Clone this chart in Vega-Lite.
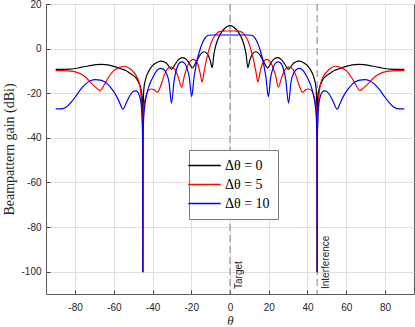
{
  "$schema": "https://vega.github.io/schema/vega-lite/v6.json",
  "width": 368,
  "height": 290,
  "autosize": {"type": "none"},
  "padding": {"left": 46, "top": 4, "right": 1, "bottom": 33},
  "background": "white",
  "config": {
    "view": {"stroke": "#5a5a5a", "strokeWidth": 1},
    "axis": {
      "labelFont": "Liberation Sans",
      "labelFontSize": 10,
      "labelColor": "#262626",
      "labelExpr": "datum.value < 0 ? '-' + abs(datum.value) : '' + datum.value",
      "gridColor": "#dfdfdf",
      "gridWidth": 1,
      "domain": false,
      "tickColor": "#404040",
      "tickSize": -4,
      "titleColor": "#262626",
      "titleFontWeight": "normal"
    }
  },
  "datasets": {
    "marks": [
      {"x": 0, "label": "Target"},
      {"x": 45, "label": "Interference"}
    ],
    "curves": [
      {"s":"Δθ = 0","x":-90,"y":-9.3},{"s":"Δθ = 0","x":-86,"y":-9.3},{"s":"Δθ = 0","x":-83,"y":-9.2},{"s":"Δθ = 0","x":-80,"y":-8.9},{"s":"Δθ = 0","x":-77,"y":-8.4},{"s":"Δθ = 0","x":-74,"y":-7.9},{"s":"Δθ = 0","x":-71.5,"y":-7.5},{"s":"Δθ = 0","x":-69,"y":-7.2},{"s":"Δθ = 0","x":-66.5,"y":-7.1},{"s":"Δθ = 0","x":-64.5,"y":-7.2},{"s":"Δθ = 0","x":-62,"y":-7.5},{"s":"Δθ = 0","x":-59,"y":-8.2},{"s":"Δθ = 0","x":-56.8,"y":-8.9},{"s":"Δθ = 0","x":-53.8,"y":-9.8},{"s":"Δθ = 0","x":-51.8,"y":-11},{"s":"Δθ = 0","x":-50,"y":-12},{"s":"Δθ = 0","x":-48,"y":-13.8},{"s":"Δθ = 0","x":-47.2,"y":-15.3},{"s":"Δθ = 0","x":-46.3,"y":-17},{"s":"Δθ = 0","x":-45.6,"y":-20},{"s":"Δθ = 0","x":-45.2,"y":-25},{"s":"Δθ = 0","x":-45.05,"y":-40},{"s":"Δθ = 0","x":-45,"y":-100},{"s":"Δθ = 0","x":-44.95,"y":-40},{"s":"Δθ = 0","x":-44.8,"y":-24},{"s":"Δθ = 0","x":-44.4,"y":-17.5},{"s":"Δθ = 0","x":-43.5,"y":-13.5},{"s":"Δθ = 0","x":-42,"y":-10.2},{"s":"Δθ = 0","x":-40,"y":-7.6},{"s":"Δθ = 0","x":-38,"y":-6.3},{"s":"Δθ = 0","x":-35.8,"y":-5.6},{"s":"Δθ = 0","x":-33.5,"y":-6.1},{"s":"Δθ = 0","x":-31.8,"y":-7.6},{"s":"Δθ = 0","x":-30.2,"y":-9.3},{"s":"Δθ = 0","x":-28.3,"y":-7.0},{"s":"Δθ = 0","x":-26.5,"y":-4.8},{"s":"Δθ = 0","x":-24.5,"y":-4.0},{"s":"Δθ = 0","x":-22.5,"y":-4.8},{"s":"Δθ = 0","x":-21,"y":-6.6},{"s":"Δθ = 0","x":-19.5,"y":-8.7},{"s":"Δθ = 0","x":-17.5,"y":-6.0},{"s":"Δθ = 0","x":-16,"y":-3.6},{"s":"Δθ = 0","x":-14.5,"y":-1.9},{"s":"Δθ = 0","x":-13.3,"y":-1.4},{"s":"Δθ = 0","x":-12,"y":-2.0},{"s":"Δθ = 0","x":-11,"y":-3.4},{"s":"Δθ = 0","x":-10.2,"y":-5.3},{"s":"Δθ = 0","x":-9.2,"y":-8.5},{"s":"Δθ = 0","x":-8.3,"y":-2.5},{"s":"Δθ = 0","x":-7.3,"y":1.5},{"s":"Δθ = 0","x":-6,"y":4.8},{"s":"Δθ = 0","x":-4.5,"y":7.2},{"s":"Δθ = 0","x":-3,"y":8.8},{"s":"Δθ = 0","x":-1.5,"y":9.9},
      {"s":"Δθ = 0","x":0,"y":10.3},
      {"s":"Δθ = 0","x":1.5,"y":9.9},{"s":"Δθ = 0","x":3,"y":8.8},{"s":"Δθ = 0","x":4.5,"y":7.2},{"s":"Δθ = 0","x":6,"y":4.8},{"s":"Δθ = 0","x":7.3,"y":1.5},{"s":"Δθ = 0","x":8.3,"y":-2.5},{"s":"Δθ = 0","x":9.2,"y":-8.5},{"s":"Δθ = 0","x":10.2,"y":-5.3},{"s":"Δθ = 0","x":11,"y":-3.4},{"s":"Δθ = 0","x":12,"y":-2.0},{"s":"Δθ = 0","x":13.3,"y":-1.4},{"s":"Δθ = 0","x":14.5,"y":-1.9},{"s":"Δθ = 0","x":16,"y":-3.6},{"s":"Δθ = 0","x":17.5,"y":-6.0},{"s":"Δθ = 0","x":19.5,"y":-8.7},{"s":"Δθ = 0","x":21,"y":-6.6},{"s":"Δθ = 0","x":22.5,"y":-4.8},{"s":"Δθ = 0","x":24.5,"y":-4.0},{"s":"Δθ = 0","x":26.5,"y":-4.8},{"s":"Δθ = 0","x":28.3,"y":-7.0},{"s":"Δθ = 0","x":30.2,"y":-9.3},{"s":"Δθ = 0","x":31.8,"y":-7.6},{"s":"Δθ = 0","x":33.5,"y":-6.1},{"s":"Δθ = 0","x":35.8,"y":-5.6},{"s":"Δθ = 0","x":38,"y":-6.3},{"s":"Δθ = 0","x":40,"y":-7.6},{"s":"Δθ = 0","x":42,"y":-10.2},{"s":"Δθ = 0","x":43.5,"y":-13.5},{"s":"Δθ = 0","x":44.4,"y":-17.5},{"s":"Δθ = 0","x":44.8,"y":-24},{"s":"Δθ = 0","x":44.95,"y":-40},{"s":"Δθ = 0","x":45,"y":-100},{"s":"Δθ = 0","x":45.05,"y":-40},{"s":"Δθ = 0","x":45.2,"y":-25},{"s":"Δθ = 0","x":45.6,"y":-20},{"s":"Δθ = 0","x":46.3,"y":-17},{"s":"Δθ = 0","x":47.2,"y":-15.3},{"s":"Δθ = 0","x":48,"y":-13.8},{"s":"Δθ = 0","x":50,"y":-12},{"s":"Δθ = 0","x":51.8,"y":-11},{"s":"Δθ = 0","x":53.8,"y":-9.8},{"s":"Δθ = 0","x":56.8,"y":-8.9},{"s":"Δθ = 0","x":59,"y":-8.2},{"s":"Δθ = 0","x":62,"y":-7.5},{"s":"Δθ = 0","x":64.5,"y":-7.2},{"s":"Δθ = 0","x":66.5,"y":-7.1},{"s":"Δθ = 0","x":69,"y":-7.2},{"s":"Δθ = 0","x":71.5,"y":-7.5},{"s":"Δθ = 0","x":74,"y":-7.9},{"s":"Δθ = 0","x":77,"y":-8.4},{"s":"Δθ = 0","x":80,"y":-8.9},{"s":"Δθ = 0","x":83,"y":-9.2},{"s":"Δθ = 0","x":86,"y":-9.3},{"s":"Δθ = 0","x":90,"y":-9.3},

      {"s":"Δθ = 5","x":-90,"y":-9.9},{"s":"Δθ = 5","x":-87,"y":-9.9},{"s":"Δθ = 5","x":-84,"y":-9.95},{"s":"Δθ = 5","x":-81,"y":-10.2},{"s":"Δθ = 5","x":-78,"y":-11.0},{"s":"Δθ = 5","x":-75,"y":-12.5},{"s":"Δθ = 5","x":-73,"y":-14.2},{"s":"Δθ = 5","x":-71,"y":-16.0},{"s":"Δθ = 5","x":-69,"y":-17.6},{"s":"Δθ = 5","x":-67,"y":-18.8},{"s":"Δθ = 5","x":-65,"y":-16.3},{"s":"Δθ = 5","x":-63,"y":-13.3},{"s":"Δθ = 5","x":-61,"y":-10.8},{"s":"Δθ = 5","x":-59,"y":-9.3},{"s":"Δθ = 5","x":-57,"y":-8.4},{"s":"Δθ = 5","x":-54.5,"y":-7.9},{"s":"Δθ = 5","x":-52,"y":-8.8},{"s":"Δθ = 5","x":-50,"y":-10.3},{"s":"Δθ = 5","x":-48.5,"y":-12},{"s":"Δθ = 5","x":-47.2,"y":-14.5},{"s":"Δθ = 5","x":-46.3,"y":-18},{"s":"Δθ = 5","x":-45.6,"y":-25},{"s":"Δθ = 5","x":-45.15,"y":-35},{"s":"Δθ = 5","x":-45,"y":-100},{"s":"Δθ = 5","x":-44.85,"y":-35},{"s":"Δθ = 5","x":-44.4,"y":-26},{"s":"Δθ = 5","x":-43.5,"y":-21.5},{"s":"Δθ = 5","x":-42.3,"y":-19},{"s":"Δθ = 5","x":-40.8,"y":-18.1},{"s":"Δθ = 5","x":-39,"y":-18.5},{"s":"Δθ = 5","x":-37.5,"y":-19.6},{"s":"Δθ = 5","x":-35.5,"y":-16},{"s":"Δθ = 5","x":-34,"y":-12},{"s":"Δθ = 5","x":-32.5,"y":-9.3},{"s":"Δθ = 5","x":-30.7,"y":-8.3},{"s":"Δθ = 5","x":-29,"y":-8.8},{"s":"Δθ = 5","x":-27.5,"y":-11},{"s":"Δθ = 5","x":-26.3,"y":-14},{"s":"Δθ = 5","x":-25,"y":-17.3},{"s":"Δθ = 5","x":-23.5,"y":-12},{"s":"Δθ = 5","x":-22,"y":-8},{"s":"Δθ = 5","x":-20.5,"y":-5.6},{"s":"Δθ = 5","x":-19,"y":-4.8},{"s":"Δθ = 5","x":-17.5,"y":-5.6},{"s":"Δθ = 5","x":-16.3,"y":-7.8},{"s":"Δθ = 5","x":-15.3,"y":-11.5},{"s":"Δθ = 5","x":-14.4,"y":-15},{"s":"Δθ = 5","x":-13.4,"y":-10.5},{"s":"Δθ = 5","x":-12.4,"y":-6.0},{"s":"Δθ = 5","x":-11.3,"y":-2.0},{"s":"Δθ = 5","x":-10.3,"y":1.0},{"s":"Δθ = 5","x":-9.4,"y":3.3},{"s":"Δθ = 5","x":-8.5,"y":4.9},{"s":"Δθ = 5","x":-7.5,"y":6.2},{"s":"Δθ = 5","x":-6.5,"y":7.1},{"s":"Δθ = 5","x":-5.5,"y":7.6},{"s":"Δθ = 5","x":-4,"y":7.85},{"s":"Δθ = 5","x":-2,"y":7.9},
      {"s":"Δθ = 5","x":0,"y":7.9},
      {"s":"Δθ = 5","x":2,"y":7.9},{"s":"Δθ = 5","x":4,"y":7.85},{"s":"Δθ = 5","x":5.5,"y":7.6},{"s":"Δθ = 5","x":6.5,"y":7.1},{"s":"Δθ = 5","x":7.5,"y":6.2},{"s":"Δθ = 5","x":8.5,"y":4.9},{"s":"Δθ = 5","x":9.4,"y":3.3},{"s":"Δθ = 5","x":10.3,"y":1.0},{"s":"Δθ = 5","x":11.3,"y":-2.0},{"s":"Δθ = 5","x":12.4,"y":-6.0},{"s":"Δθ = 5","x":13.4,"y":-10.5},{"s":"Δθ = 5","x":14.4,"y":-15},{"s":"Δθ = 5","x":15.3,"y":-11.5},{"s":"Δθ = 5","x":16.3,"y":-7.8},{"s":"Δθ = 5","x":17.5,"y":-5.6},{"s":"Δθ = 5","x":19,"y":-4.8},{"s":"Δθ = 5","x":20.5,"y":-5.6},{"s":"Δθ = 5","x":22,"y":-8},{"s":"Δθ = 5","x":23.5,"y":-12},{"s":"Δθ = 5","x":25,"y":-17.3},{"s":"Δθ = 5","x":26.3,"y":-14},{"s":"Δθ = 5","x":27.5,"y":-11},{"s":"Δθ = 5","x":29,"y":-8.8},{"s":"Δθ = 5","x":30.7,"y":-8.3},{"s":"Δθ = 5","x":32.5,"y":-9.3},{"s":"Δθ = 5","x":34,"y":-12},{"s":"Δθ = 5","x":35.5,"y":-16},{"s":"Δθ = 5","x":37.5,"y":-19.6},{"s":"Δθ = 5","x":39,"y":-18.5},{"s":"Δθ = 5","x":40.8,"y":-18.1},{"s":"Δθ = 5","x":42.3,"y":-19},{"s":"Δθ = 5","x":43.5,"y":-21.5},{"s":"Δθ = 5","x":44.4,"y":-26},{"s":"Δθ = 5","x":44.85,"y":-35},{"s":"Δθ = 5","x":45,"y":-100},{"s":"Δθ = 5","x":45.15,"y":-35},{"s":"Δθ = 5","x":45.6,"y":-25},{"s":"Δθ = 5","x":46.3,"y":-18},{"s":"Δθ = 5","x":47.2,"y":-14.5},{"s":"Δθ = 5","x":48.5,"y":-12},{"s":"Δθ = 5","x":50,"y":-10.3},{"s":"Δθ = 5","x":52,"y":-8.8},{"s":"Δθ = 5","x":54.5,"y":-7.9},{"s":"Δθ = 5","x":57,"y":-8.4},{"s":"Δθ = 5","x":59,"y":-9.3},{"s":"Δθ = 5","x":61,"y":-10.8},{"s":"Δθ = 5","x":63,"y":-13.3},{"s":"Δθ = 5","x":65,"y":-16.3},{"s":"Δθ = 5","x":67,"y":-18.8},{"s":"Δθ = 5","x":69,"y":-17.6},{"s":"Δθ = 5","x":71,"y":-16.0},{"s":"Δθ = 5","x":73,"y":-14.2},{"s":"Δθ = 5","x":75,"y":-12.5},{"s":"Δθ = 5","x":78,"y":-11.0},{"s":"Δθ = 5","x":81,"y":-10.2},{"s":"Δθ = 5","x":84,"y":-9.95},{"s":"Δθ = 5","x":87,"y":-9.9},{"s":"Δθ = 5","x":90,"y":-9.9},

      {"s":"Δθ = 10","x":-90,"y":-27},{"s":"Δθ = 10","x":-87,"y":-27},{"s":"Δθ = 10","x":-84.5,"y":-26.2},{"s":"Δθ = 10","x":-82,"y":-24},{"s":"Δθ = 10","x":-79.5,"y":-21.2},{"s":"Δθ = 10","x":-77,"y":-18.2},{"s":"Δθ = 10","x":-74.5,"y":-15.8},{"s":"Δθ = 10","x":-72,"y":-14.4},{"s":"Δθ = 10","x":-69.5,"y":-13.9},{"s":"Δθ = 10","x":-67,"y":-14.1},{"s":"Δθ = 10","x":-64.5,"y":-15},{"s":"Δθ = 10","x":-62,"y":-17},{"s":"Δθ = 10","x":-60,"y":-19.3},{"s":"Δθ = 10","x":-58,"y":-22.3},{"s":"Δθ = 10","x":-56.5,"y":-25.2},{"s":"Δθ = 10","x":-55.3,"y":-27.3},{"s":"Δθ = 10","x":-54.3,"y":-25.8},{"s":"Δθ = 10","x":-53,"y":-23.3},{"s":"Δθ = 10","x":-51.5,"y":-20.8},{"s":"Δθ = 10","x":-50,"y":-19.2},{"s":"Δθ = 10","x":-48.5,"y":-18.9},{"s":"Δθ = 10","x":-47,"y":-20.5},{"s":"Δθ = 10","x":-46,"y":-24},{"s":"Δθ = 10","x":-45.3,"y":-33},{"s":"Δθ = 10","x":-45.05,"y":-45},{"s":"Δθ = 10","x":-45,"y":-100},{"s":"Δθ = 10","x":-44.95,"y":-45},{"s":"Δθ = 10","x":-44.7,"y":-33},{"s":"Δθ = 10","x":-44,"y":-25.5},{"s":"Δθ = 10","x":-43,"y":-20.5},{"s":"Δθ = 10","x":-41.5,"y":-16},{"s":"Δθ = 10","x":-39.5,"y":-12.3},{"s":"Δθ = 10","x":-37.5,"y":-9.6},{"s":"Δθ = 10","x":-36,"y":-8.9},{"s":"Δθ = 10","x":-34.5,"y":-9.2},{"s":"Δθ = 10","x":-33,"y":-10.8},{"s":"Δθ = 10","x":-31.5,"y":-15},{"s":"Δθ = 10","x":-30.2,"y":-24.4},{"s":"Δθ = 10","x":-28.8,"y":-14},{"s":"Δθ = 10","x":-27.7,"y":-9.5},{"s":"Δθ = 10","x":-26.5,"y":-6.8},{"s":"Δθ = 10","x":-25,"y":-5.9},{"s":"Δθ = 10","x":-23.5,"y":-6.5},{"s":"Δθ = 10","x":-22.3,"y":-8.5},{"s":"Δθ = 10","x":-21,"y":-13},{"s":"Δθ = 10","x":-19.8,"y":-21.5},{"s":"Δθ = 10","x":-18.5,"y":-12.5},{"s":"Δθ = 10","x":-17.5,"y":-7.5},{"s":"Δθ = 10","x":-16.5,"y":-3.5},{"s":"Δθ = 10","x":-15.5,"y":-0.5},{"s":"Δθ = 10","x":-14.5,"y":2.0},{"s":"Δθ = 10","x":-13,"y":4.6},{"s":"Δθ = 10","x":-12,"y":5.6},{"s":"Δθ = 10","x":-11,"y":6.0},{"s":"Δθ = 10","x":-9,"y":6.1},{"s":"Δθ = 10","x":-6,"y":6.1},{"s":"Δθ = 10","x":-3,"y":6.1},
      {"s":"Δθ = 10","x":0,"y":6.1},
      {"s":"Δθ = 10","x":3,"y":6.1},{"s":"Δθ = 10","x":6,"y":6.1},{"s":"Δθ = 10","x":9,"y":6.1},{"s":"Δθ = 10","x":11,"y":6.0},{"s":"Δθ = 10","x":12,"y":5.6},{"s":"Δθ = 10","x":13,"y":4.6},{"s":"Δθ = 10","x":14.5,"y":2.0},{"s":"Δθ = 10","x":15.5,"y":-0.5},{"s":"Δθ = 10","x":16.5,"y":-3.5},{"s":"Δθ = 10","x":17.5,"y":-7.5},{"s":"Δθ = 10","x":18.5,"y":-12.5},{"s":"Δθ = 10","x":19.8,"y":-21.5},{"s":"Δθ = 10","x":21,"y":-13},{"s":"Δθ = 10","x":22.3,"y":-8.5},{"s":"Δθ = 10","x":23.5,"y":-6.5},{"s":"Δθ = 10","x":25,"y":-5.9},{"s":"Δθ = 10","x":26.5,"y":-6.8},{"s":"Δθ = 10","x":27.7,"y":-9.5},{"s":"Δθ = 10","x":28.8,"y":-14},{"s":"Δθ = 10","x":30.2,"y":-24.4},{"s":"Δθ = 10","x":31.5,"y":-15},{"s":"Δθ = 10","x":33,"y":-10.8},{"s":"Δθ = 10","x":34.5,"y":-9.2},{"s":"Δθ = 10","x":36,"y":-8.9},{"s":"Δθ = 10","x":37.5,"y":-9.6},{"s":"Δθ = 10","x":39.5,"y":-12.3},{"s":"Δθ = 10","x":41.5,"y":-16},{"s":"Δθ = 10","x":43,"y":-20.5},{"s":"Δθ = 10","x":44,"y":-25.5},{"s":"Δθ = 10","x":44.7,"y":-33},{"s":"Δθ = 10","x":44.95,"y":-45},{"s":"Δθ = 10","x":45,"y":-100},{"s":"Δθ = 10","x":45.05,"y":-45},{"s":"Δθ = 10","x":45.3,"y":-33},{"s":"Δθ = 10","x":46,"y":-24},{"s":"Δθ = 10","x":47,"y":-20.5},{"s":"Δθ = 10","x":48.5,"y":-18.9},{"s":"Δθ = 10","x":50,"y":-19.2},{"s":"Δθ = 10","x":51.5,"y":-20.8},{"s":"Δθ = 10","x":53,"y":-23.3},{"s":"Δθ = 10","x":54.3,"y":-25.8},{"s":"Δθ = 10","x":55.3,"y":-27.3},{"s":"Δθ = 10","x":56.5,"y":-25.2},{"s":"Δθ = 10","x":58,"y":-22.3},{"s":"Δθ = 10","x":60,"y":-19.3},{"s":"Δθ = 10","x":62,"y":-17},{"s":"Δθ = 10","x":64.5,"y":-15},{"s":"Δθ = 10","x":67,"y":-14.1},{"s":"Δθ = 10","x":69.5,"y":-13.9},{"s":"Δθ = 10","x":72,"y":-14.4},{"s":"Δθ = 10","x":74.5,"y":-15.8},{"s":"Δθ = 10","x":77,"y":-18.2},{"s":"Δθ = 10","x":79.5,"y":-21.2},{"s":"Δθ = 10","x":82,"y":-24},{"s":"Δθ = 10","x":84.5,"y":-26.2},{"s":"Δθ = 10","x":87,"y":-27},{"s":"Δθ = 10","x":90,"y":-27}
    ]
  },
  "layer": [
    {
      "data": {"name": "marks"},
      "mark": {"type": "rule", "stroke": "#808080", "strokeWidth": 1, "strokeDash": [7, 4]},
      "encoding": {
        "x": {"field": "x", "type": "quantitative"}
      }
    },
    {
      "data": {"name": "curves"},
      "mark": {"type": "line", "strokeWidth": 1.2, "interpolate": "monotone", "clip": true},
      "encoding": {
        "x": {
          "field": "x", "type": "quantitative",
          "scale": {"domain": [-95, 95], "nice": false, "zero": false},
          "axis": {
            "values": [-80, -60, -40, -20, 0, 20, 40, 60, 80],
            "title": "θ",
            "titleFont": "Liberation Serif",
            "titleFontStyle": "italic",
            "titleFontSize": 13,
            "titleY": 26,
            "titleBaseline": "middle",
            "labelPadding": 12
          }
        },
        "y": {
          "field": "y", "type": "quantitative",
          "scale": {"domain": [-110, 20], "nice": false, "zero": false},
          "axis": {
            "values": [-100, -80, -60, -40, -20, 0, 20],
            "title": "Beampattern gain (dBi)",
            "titleFont": "Liberation Serif",
            "titleFontSize": 14,
            "titleX": -37,
            "titleAngle": 270,
            "titleBaseline": "middle",
            "titleAlign": "center",
            "labelPadding": 9
          }
        },
        "color": {
          "field": "s", "type": "nominal",
          "scale": {"domain": ["Δθ = 0", "Δθ = 5", "Δθ = 10"], "range": ["#000000", "#ff0000", "#0000ff"]},
          "legend": {
            "title": null,
            "orient": "none",
            "legendX": 143,
            "legendY": 146,
            "direction": "vertical",
            "fillColor": "white",
            "strokeColor": "#7a7a7a",
            "padding": 8,
            "symbolType": "M-2.5,0H2.5",
            "symbolSize": 169,
            "symbolStrokeWidth": 1.5,
            "symbolFillColor": "transparent",
            "labelFont": "Liberation Serif",
            "labelFontSize": 14,
            "labelColor": "black",
            "labelOffset": 13,
            "rowPadding": 4
          }
        }
      }
    },
    {
      "data": {"name": "marks"},
      "mark": {"type": "text", "angle": 270, "align": "left", "baseline": "top", "dx": 5, "dy": 4, "font": "Liberation Sans", "fontSize": 10, "fill": "#262626"},
      "encoding": {
        "x": {"field": "x", "type": "quantitative"},
        "y": {"datum": -110},
        "text": {"field": "label"}
      }
    }
  ]
}
